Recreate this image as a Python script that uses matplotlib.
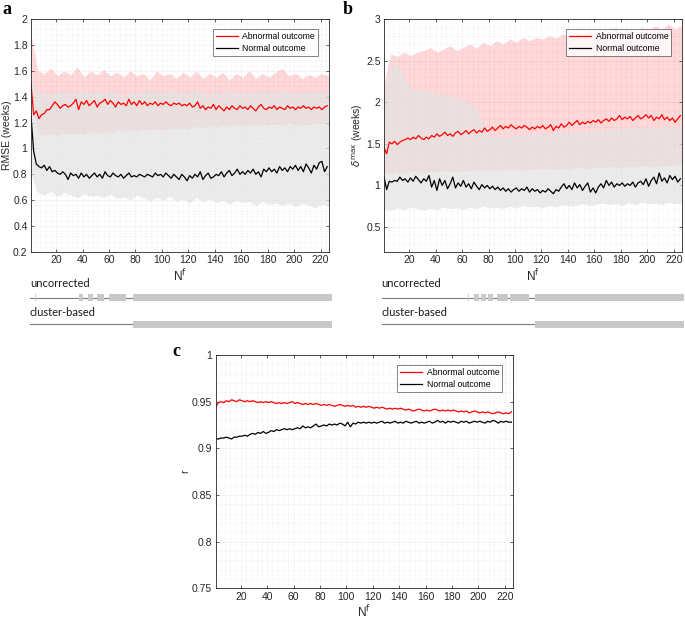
"""
Three-panel chart: RMSE, delta-max and r versus N^f for abnormal / normal outcome.
"""
import matplotlib
matplotlib.use("Agg")
import matplotlib.pyplot as plt
import numpy as np
from matplotlib.ticker import AutoMinorLocator

plt.rcParams["font.family"] = ["Liberation Sans", "DejaVu Sans"]

W, H = 685, 619

# ---- data: lines sampled at N = 1, 3, 5, ..., 225 ----
n_line = np.arange(1, 227, 2)

rmse_abn = [
    1.50, 1.26, 1.29, 1.23, 1.26, 1.27, 1.30, 1.30, 1.33, 1.36,
    1.34, 1.31, 1.33, 1.34, 1.32, 1.33, 1.35, 1.38, 1.30, 1.36,
    1.34, 1.37, 1.33, 1.35, 1.37, 1.32, 1.35, 1.36, 1.38, 1.34,
    1.37, 1.35, 1.32, 1.36, 1.34, 1.35, 1.33, 1.38, 1.34, 1.36,
    1.33, 1.37, 1.34, 1.36, 1.33, 1.35, 1.34, 1.36, 1.33, 1.35,
    1.34, 1.36, 1.34, 1.33, 1.35, 1.34, 1.35, 1.33, 1.34, 1.33,
    1.35, 1.32, 1.33, 1.36, 1.31, 1.33, 1.30, 1.32, 1.31, 1.34,
    1.30, 1.33, 1.31, 1.29, 1.32, 1.30, 1.33, 1.31, 1.30, 1.33,
    1.31, 1.32, 1.30, 1.33, 1.31, 1.29, 1.32, 1.34, 1.31, 1.30,
    1.32, 1.31, 1.33, 1.30, 1.32, 1.31, 1.30, 1.33, 1.31, 1.32,
    1.30, 1.32, 1.31, 1.33, 1.31, 1.32, 1.30, 1.32, 1.31, 1.32,
    1.30, 1.32, 1.33,
]
rmse_norm = [
    1.25, 0.98, 0.88, 0.86, 0.85, 0.87, 0.83, 0.86, 0.82, 0.83,
    0.81, 0.80, 0.82, 0.80, 0.76, 0.81, 0.79, 0.80, 0.77, 0.81,
    0.78, 0.80, 0.77, 0.79, 0.81, 0.78, 0.80, 0.77, 0.82, 0.79,
    0.78, 0.81, 0.79, 0.78, 0.80, 0.77, 0.79, 0.81, 0.78, 0.79,
    0.78, 0.80, 0.79, 0.78, 0.80, 0.79, 0.78, 0.81, 0.79, 0.80,
    0.78, 0.81, 0.79, 0.77, 0.80, 0.78, 0.76, 0.80, 0.78, 0.75,
    0.79, 0.77, 0.80, 0.78, 0.82, 0.76, 0.79, 0.81, 0.77, 0.78,
    0.80, 0.79, 0.82, 0.78, 0.81, 0.83, 0.79, 0.81, 0.84, 0.80,
    0.82, 0.80, 0.83, 0.81, 0.84, 0.80, 0.82, 0.78, 0.84, 0.82,
    0.85, 0.82, 0.84, 0.81, 0.86, 0.83, 0.85, 0.82, 0.86, 0.84,
    0.87, 0.83, 0.86, 0.82, 0.88, 0.85, 0.81, 0.87, 0.84, 0.89,
    0.90, 0.82, 0.86,
]
dmax_abn = [
    1.45, 1.38, 1.52, 1.50, 1.53, 1.49, 1.52, 1.54, 1.55, 1.57,
    1.55, 1.58, 1.56, 1.60, 1.57, 1.55, 1.58, 1.56, 1.60, 1.58,
    1.62, 1.59, 1.61, 1.64, 1.60, 1.62, 1.59, 1.63, 1.65, 1.61,
    1.63, 1.66, 1.62, 1.65, 1.67, 1.63, 1.66, 1.64, 1.69, 1.65,
    1.67, 1.70, 1.66, 1.69, 1.72, 1.68, 1.71, 1.69, 1.73, 1.70,
    1.68, 1.71, 1.69, 1.72, 1.70, 1.67, 1.70, 1.68, 1.71, 1.69,
    1.72, 1.68, 1.70, 1.73, 1.66, 1.71, 1.69, 1.74, 1.70, 1.72,
    1.76, 1.72, 1.75, 1.78, 1.73, 1.76, 1.74, 1.77, 1.75, 1.78,
    1.76, 1.79, 1.75, 1.78, 1.80, 1.77, 1.81, 1.78, 1.80, 1.84,
    1.79, 1.82, 1.80, 1.83, 1.78, 1.81, 1.84, 1.80, 1.82, 1.85,
    1.81, 1.84, 1.78, 1.82, 1.80, 1.85, 1.79, 1.82, 1.78, 1.81,
    1.76, 1.80, 1.84,
]
dmax_norm = [
    1.10, 0.95, 1.05, 1.04, 1.06, 1.05, 1.10, 1.06, 1.08, 1.04,
    1.09, 1.05, 1.11, 1.07, 1.03, 1.08, 1.05, 1.12, 0.98, 1.06,
    0.94, 1.08, 1.00, 1.06, 0.96, 1.02, 1.10, 0.97, 1.03, 0.99,
    1.06, 0.98, 1.02, 0.96, 1.04, 0.99, 0.95, 1.01, 0.97, 1.00,
    0.96, 0.99, 0.95, 0.98, 0.94, 0.97, 0.93, 0.96, 0.92, 0.95,
    0.97, 0.93, 0.96, 0.94, 0.98, 0.92, 0.96, 0.93, 0.95, 0.91,
    0.94, 0.92, 0.96, 0.93, 0.90, 0.95, 0.93, 0.98, 1.02, 0.96,
    1.00, 0.95, 1.03, 0.97, 1.01, 0.94, 0.99, 1.03, 0.92, 0.97,
    0.91, 0.98, 1.02, 0.97, 1.06, 1.00, 1.04, 0.98, 1.02, 1.00,
    1.03, 0.99, 1.02, 1.00, 1.04, 0.98, 1.03, 1.05, 1.01, 1.08,
    0.99, 1.06, 1.10, 1.02, 1.15, 1.05, 1.09, 1.03, 1.12, 1.07,
    1.11, 1.04, 1.08,
]
r_abn = [
    0.944, 0.949, 0.950, 0.949, 0.951, 0.950, 0.952, 0.951, 0.950, 0.952,
    0.951, 0.950, 0.951, 0.950, 0.951, 0.950, 0.949, 0.950, 0.949, 0.950,
    0.949, 0.950, 0.949, 0.948, 0.949, 0.948, 0.949, 0.948, 0.949, 0.950,
    0.948, 0.949, 0.948, 0.947, 0.948, 0.947, 0.948, 0.947, 0.948, 0.947,
    0.946, 0.947, 0.946, 0.947, 0.946, 0.945, 0.946, 0.947, 0.946, 0.945,
    0.946, 0.945, 0.946, 0.944, 0.945, 0.944, 0.945, 0.944, 0.945, 0.944,
    0.943, 0.944, 0.943, 0.944, 0.943, 0.942, 0.943, 0.942, 0.943, 0.942,
    0.943, 0.942, 0.941, 0.942, 0.941, 0.940, 0.941, 0.942, 0.941, 0.940,
    0.941, 0.940, 0.941, 0.942, 0.941, 0.940, 0.941, 0.940, 0.941, 0.940,
    0.941, 0.940, 0.939, 0.940, 0.939, 0.940, 0.938, 0.939, 0.940, 0.939,
    0.938, 0.939, 0.938, 0.939, 0.938, 0.937, 0.938, 0.939, 0.938, 0.937,
    0.938, 0.937, 0.939,
]
r_norm = [
    0.910, 0.910, 0.911, 0.911, 0.912, 0.911, 0.910, 0.912, 0.912, 0.913,
    0.913, 0.914, 0.913, 0.915, 0.916, 0.915, 0.917, 0.916, 0.918, 0.916,
    0.917, 0.919, 0.918, 0.920, 0.919, 0.920, 0.921, 0.920, 0.921, 0.920,
    0.921, 0.922, 0.921, 0.924, 0.922, 0.923, 0.922, 0.924, 0.926, 0.923,
    0.924, 0.925, 0.924, 0.926, 0.925, 0.926, 0.925, 0.927, 0.926, 0.924,
    0.928, 0.923, 0.927, 0.926, 0.928, 0.927, 0.928, 0.927, 0.928, 0.927,
    0.928, 0.927, 0.928, 0.929, 0.927, 0.928, 0.927, 0.928, 0.929, 0.927,
    0.928, 0.927, 0.929, 0.928, 0.927, 0.928, 0.929, 0.927, 0.928, 0.927,
    0.928, 0.929, 0.927, 0.928, 0.930, 0.928, 0.929, 0.927, 0.929, 0.928,
    0.929, 0.928, 0.927, 0.929, 0.928, 0.929, 0.927, 0.928, 0.929, 0.928,
    0.929, 0.928, 0.927, 0.929, 0.928, 0.930, 0.929, 0.927, 0.929, 0.928,
    0.929, 0.928, 0.928,
]

# ---- data: spread bands sampled at N = 1, 6, 11, ..., 226 ----
n_band = np.arange(1, 227, 5)

rmse_abn_hi = [
    1.88, 1.60, 1.58, 1.62, 1.56, 1.60, 1.57, 1.63, 1.55, 1.60,
    1.57, 1.61, 1.56, 1.59, 1.55, 1.60, 1.56, 1.58, 1.53, 1.60,
    1.56, 1.58, 1.54, 1.59, 1.55, 1.60, 1.54, 1.58, 1.55, 1.59,
    1.53, 1.58, 1.55, 1.60, 1.54, 1.58, 1.55, 1.59, 1.62, 1.56,
    1.58, 1.54, 1.57, 1.55, 1.58, 1.56,
]
rmse_abn_lo = [
    1.45, 1.12, 1.10, 1.11, 1.10, 1.12, 1.11, 1.12, 1.11, 1.13,
    1.12, 1.13, 1.12, 1.14, 1.13, 1.14, 1.13, 1.15, 1.14, 1.15,
    1.14, 1.16, 1.15, 1.16, 1.15, 1.17, 1.16, 1.17, 1.16, 1.18,
    1.17, 1.18, 1.17, 1.19, 1.18, 1.19, 1.18, 1.19, 1.18, 1.20,
    1.18, 1.19, 1.18, 1.20, 1.19, 1.18,
]
rmse_norm_hi = [
    1.55, 1.42, 1.44, 1.41, 1.45, 1.43, 1.44, 1.42, 1.45, 1.43,
    1.44, 1.42, 1.45, 1.43, 1.41, 1.44, 1.42, 1.45, 1.43, 1.44,
    1.42, 1.45, 1.43, 1.44, 1.42, 1.45, 1.43, 1.41, 1.44, 1.42,
    1.45, 1.43, 1.44, 1.42, 1.45, 1.43, 1.44, 1.42, 1.45, 1.43,
    1.44, 1.42, 1.45, 1.43, 1.44, 1.42,
]
rmse_norm_lo = [
    0.80, 0.66, 0.64, 0.67, 0.63, 0.66, 0.64, 0.62, 0.65, 0.63,
    0.64, 0.62, 0.65, 0.61, 0.63, 0.60, 0.64, 0.62, 0.59, 0.62,
    0.60, 0.63, 0.59, 0.61, 0.58, 0.62, 0.59, 0.61, 0.58, 0.60,
    0.57, 0.60, 0.58, 0.59, 0.56, 0.59, 0.57, 0.58, 0.56, 0.58,
    0.55, 0.58, 0.56, 0.54, 0.57, 0.55,
]
dmax_abn_hi = [
    2.22, 2.58, 2.55, 2.60, 2.56, 2.60, 2.62, 2.66, 2.60, 2.64,
    2.68, 2.62, 2.66, 2.70, 2.65, 2.72, 2.68, 2.74, 2.70, 2.76,
    2.72, 2.78, 2.74, 2.78, 2.76, 2.80, 2.77, 2.82, 2.78, 2.84,
    2.80, 2.86, 2.82, 2.88, 2.84, 2.90, 2.85, 2.88, 2.84, 2.90,
    2.86, 2.92, 2.87, 2.94, 2.88, 2.92,
]
dmax_abn_lo = [
    1.15, 1.14, 1.16, 1.15, 1.17, 1.16, 1.15, 1.17, 1.16, 1.18,
    1.17, 1.16, 1.18, 1.17, 1.19, 1.18, 1.17, 1.19, 1.18, 1.20,
    1.19, 1.18, 1.20, 1.19, 1.21, 1.20, 1.19, 1.21, 1.20, 1.22,
    1.21, 1.20, 1.22, 1.21, 1.23, 1.22, 1.21, 1.23, 1.22, 1.24,
    1.23, 1.22, 1.24, 1.23, 1.25, 1.24,
]
dmax_norm_hi = [
    2.20, 2.40, 2.47, 2.30, 2.16, 2.15, 2.13, 2.12, 2.10, 2.09,
    2.07, 2.05, 2.02, 1.98, 1.92, 1.72, 1.60, 1.58, 1.60, 1.59,
    1.61, 1.60, 1.62, 1.61, 1.63, 1.62, 1.64, 1.63, 1.65, 1.64,
    1.66, 1.65, 1.67, 1.66, 1.68, 1.67, 1.69, 1.68, 1.70, 1.69,
    1.70, 1.69, 1.71, 1.70, 1.72, 1.71,
]
dmax_norm_lo = [
    0.72, 0.70, 0.73, 0.71, 0.74, 0.72, 0.70, 0.73, 0.71, 0.74,
    0.72, 0.73, 0.71, 0.74, 0.72, 0.75, 0.73, 0.74, 0.72, 0.75,
    0.73, 0.76, 0.74, 0.75, 0.73, 0.76, 0.74, 0.77, 0.75, 0.76,
    0.78, 0.76, 0.77, 0.79, 0.77, 0.78, 0.76, 0.79, 0.77, 0.80,
    0.78, 0.79, 0.77, 0.80, 0.78, 0.79,
]

# ---- significant N^f ranges (start, end) ----
sig_a_uncorr = [(3.6, 4.4), (36.5, 39.7), (43.9, 47.2), (50.5, 55.6), (59.6, 72.4), (78.0, 229.0)]
sig_a_cluster = [(78.0, 229.0)]
sig_b_uncorr = [(52.0, 52.5), (65.0, 65.5), (69.4, 73.1), (74.6, 78.4), (79.9, 83.7),
                (86.9, 95.0), (97.0, 110.9), (115.4, 229.0)]
sig_b_cluster = [(115.4, 229.0)]

RED = "#ff0000"
BLACK = "#000000"
TXT = "#262626"


def px_rect(left, top, right, bottom):
    return [left / W, 1 - bottom / H, (right - left) / W, (bottom - top) / H]


def style_axes(ax, ylim, yticks, ylabel):
    ax.set_xlim(1, 226)
    ax.set_ylim(*ylim)
    ax.set_xticks(np.arange(20, 221, 20))
    ax.set_yticks(yticks)
    ax.set_yticklabels([f"{v:g}" for v in yticks])
    ax.xaxis.set_minor_locator(AutoMinorLocator(5))
    ax.yaxis.set_minor_locator(AutoMinorLocator(5))
    ax.tick_params(which="both", direction="in", top=True, right=True,
                   labelsize=7.5, colors=TXT, length=2.5, width=0.5, pad=2.5)
    ax.tick_params(which="minor", length=0)
    ax.grid(True, which="major", linestyle=(0, (1, 2)), color="#d4d4d4", linewidth=0.5)
    ax.grid(True, which="minor", linestyle=(0, (1, 2)), color="#e6e6e6", linewidth=0.5)
    ax.set_axisbelow(True)
    for sp in ax.spines.values():
        sp.set_color(TXT)
        sp.set_linewidth(0.6)
    ax.set_xlabel(r"N$^\mathrm{f}$", fontsize=8.5, color=TXT, labelpad=2)
    ax.set_ylabel(ylabel, fontsize=7.5, color=TXT, labelpad=1)


def add_legend(ax):
    leg = ax.legend(loc="upper right", fontsize=6.2, frameon=True, fancybox=False,
                    handlelength=2.6, borderaxespad=1.2, labelspacing=0.3,
                    borderpad=0.35, handletextpad=0.5)
    leg.get_frame().set_edgecolor(TXT)
    leg.get_frame().set_linewidth(0.5)


def draw_panel(ax, abn, norm, abn_band, norm_band):
    if abn_band is not None:
        ax.fill_between(n_band, abn_band[1], abn_band[0], color=RED, alpha=0.15, linewidth=0)
        ax.fill_between(n_band, norm_band[1], norm_band[0], color="#e3e3e3", alpha=0.7, linewidth=0)
    ax.plot(n_line, abn, color=RED, linewidth=0.9, label="Abnormal outcome")
    ax.plot(n_line, norm, color=BLACK, linewidth=0.9, label="Normal outcome")
    add_legend(ax)


def draw_sig(fig, rect, xlim, uncorr, cluster):
    ax = fig.add_axes(rect)
    ax.set_xlim(*xlim)
    ax.set_ylim(1, 0)
    ax.axis("off")
    for ypos_text, ypos_bar, name, spans in [(0.14, 0.39, "uncorrected", uncorr),
                                              (0.66, 0.86, "cluster-based", cluster)]:
        ax.text(xlim[0], ypos_text, name, fontsize=8, color="#1a1a1a",
                family=["Lato", "DejaVu Sans"], ha="left", va="center")
        ax.plot(xlim, [ypos_bar, ypos_bar], color="#7a7a7a", linewidth=0.8, zorder=1)
        ax.broken_barh([(s, e - s) for s, e in spans], (ypos_bar - 0.065, 0.13),
                       facecolors="#c8c8c8", edgecolor="none", zorder=2)


fig = plt.figure(figsize=(W / 100, H / 100), dpi=100)

ax_a = fig.add_axes(px_rect(31, 19, 328.5, 252))
draw_panel(ax_a, rmse_abn, rmse_norm, (rmse_abn_hi, rmse_abn_lo), (rmse_norm_hi, rmse_norm_lo))
style_axes(ax_a, (0.2, 2.0), np.round(np.arange(0.2, 2.01, 0.2), 1), "RMSE (weeks)")

ax_b = fig.add_axes(px_rect(384, 19, 681.7, 252))
draw_panel(ax_b, dmax_abn, dmax_norm, (dmax_abn_hi, dmax_abn_lo), (dmax_norm_hi, dmax_norm_lo))
style_axes(ax_b, (0.2, 3.0), np.arange(0.5, 3.01, 0.5), r"$\delta^{\mathrm{max}}$ (weeks)")

ax_c = fig.add_axes(px_rect(215.7, 355, 512.7, 588.3))
draw_panel(ax_c, r_abn, r_norm, None, None)
style_axes(ax_c, (0.75, 1.0), np.round(np.arange(0.75, 1.001, 0.05), 2), "r")

draw_sig(fig, px_rect(30, 276, 332, 332), (-0.2, 228.3), sig_a_uncorr, sig_a_cluster)
draw_sig(fig, px_rect(381.7, 276, 684, 332), (-0.1, 228.1), sig_b_uncorr, sig_b_cluster)

for label, x, y in [("a", 2, 10), ("b", 343, 10), ("c", 172, 351)]:
    fig.text(x / W, 1 - y / H, label, fontsize=13, fontweight="bold",
             family="Liberation Serif", ha="left", va="center")

fig.savefig("out.png", dpi=100)
plt.close(fig)
